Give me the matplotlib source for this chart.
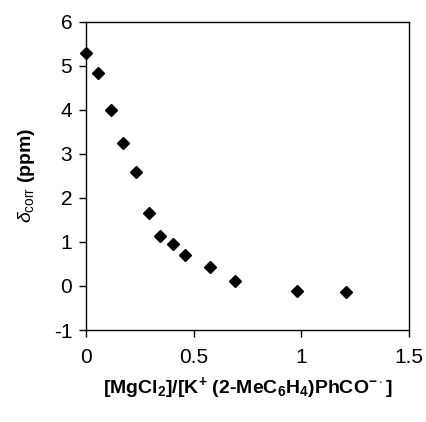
import matplotlib
matplotlib.use('Agg')
import matplotlib.pyplot as plt

plt.rcParams['font.family'] = ['Liberation Sans', 'DejaVu Sans']
plt.rcParams['mathtext.fontset'] = 'custom'
plt.rcParams['mathtext.rm'] = 'Liberation Sans'
plt.rcParams['mathtext.it'] = 'Liberation Sans:italic'
plt.rcParams['mathtext.bf'] = 'Liberation Sans:bold'

ratio = [0.0, 0.057, 0.114, 0.172, 0.230, 0.291, 0.345, 0.402, 0.461, 0.575, 0.694, 0.980, 1.209]
delta = [5.28, 4.83, 3.99, 3.25, 2.58, 1.66, 1.13, 0.96, 0.71, 0.42, 0.12, -0.11, -0.14]
xticks = [0, 0.5, 1, 1.5]
xticklabels = ['0', '0.5', '1', '1.5']
yticks = [-1, 0, 1, 2, 3, 4, 5, 6]

fig = plt.figure(figsize=(4.26, 4.22), dpi=100)
ax = fig.add_axes([0.202, 0.218, 0.758, 0.731])
ax.plot(ratio, delta, 'D', color='black', markersize=6.5, clip_on=False)

ax.set_xlim(0, 1.5)
ax.set_ylim(-1, 6)
ax.set_xticks(xticks)
ax.set_xticklabels(xticklabels)
ax.set_yticks(yticks)
ax.set_yticklabels([str(v) for v in yticks])
ax.tick_params(direction='out', length=5, width=1, labelsize=15, pad=8)
ax.tick_params(axis='y', pad=5)
for s in ax.spines.values():
    s.set_linewidth(1)
    s.set_color('black')

ax.set_xlabel('[MgCl$_\\mathbf{2}$]/[K$^\\mathbf{+}$ (2-MeC$_\\mathbf{6}$H$_\\mathbf{4}$)PhCO$^{\\mathbf{-\\cdot}}$]',
              fontsize=14, fontweight='bold', labelpad=6)
ax.set_ylabel('$\\delta_{\\rm corr}$ $\\mathbf{(ppm)}$', fontsize=14, labelpad=12)

fig.savefig('out.png', dpi=100)
